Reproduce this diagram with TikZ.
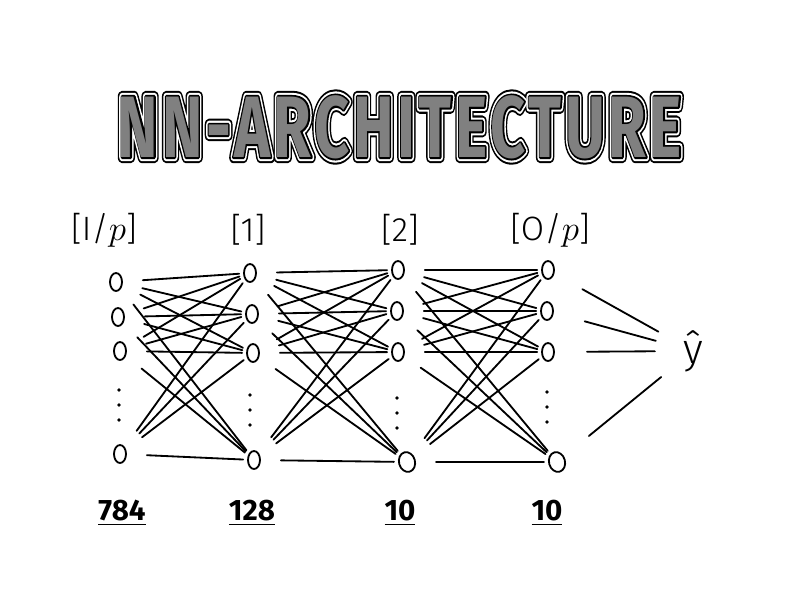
\documentclass[tikz,border=0pt]{standalone}
\usepackage{fontspec}
\usepackage{amsmath}
\usetikzlibrary{shapes.geometric}
\newfontfamily\titlefont{Fira Sans}
\newfontfamily\labelfont{Fira Sans}[UprightFont=* Light]

\tikzset{
  neuron/.style={ellipse, draw, line width=1.3pt, minimum width=0.3cm, minimum height=0.45cm, inner sep=0pt},
  bigneuron/.style={neuron, minimum width=0.4cm, minimum height=0.5cm, rotate=15},
  dotmark/.style={circle, fill, inner sep=0pt, minimum size=2.6pt},
  synapse/.style={line width=1.3pt, line cap=round, shorten <=0.5cm, shorten >=0.1cm},
  outsynapse/.style={synapse, shorten <=0.8cm, shorten >=0.7cm},
  layerlabel/.style={font=\labelfont\fontsize{24}{28}\selectfont},
  countlabel/.style={font=\titlefont\bfseries\fontsize{21}{24}\selectfont},
  titletext/.style={font=\titlefont\bfseries\fontsize{62}{70}\selectfont\addfontfeature{LetterSpace=6}, inner sep=0pt},
}

\newcommand{\titlestr}{\scalebox{0.7}[1]{NN-ARCHITECTURE}}
% the title once more, stroked with a pen of width #1 in colour #2
\newcommand{\strokedtitle}[2]{%
  \rlap{\color{#2}\special{pdf:literal direct 2 Tr #1 w 1 j}\titlestr\special{pdf:literal direct 0 Tr}}}

\begin{document}
\begin{tikzpicture}[x=0.025cm, y=-0.025cm]
  \useasboundingbox (0,0) rectangle (800,600);

  % title with outline
  \node[titletext] (title) at (400,127)
    {\strokedtitle{8.5}{black}\strokedtitle{5.6}{white}\strokedtitle{2.6}{black}\textcolor{gray}{\titlestr}};

  % layer labels
  \node[layerlabel] (lin) at (104,230) {[I/$p$]};
  \node[layerlabel] (lh) at (248,230) {[1]};
  \node[layerlabel] (lg) at (400,230) {[2]};
  \node[layerlabel] (lo) at (550,230) {[O/$p$]};

  % input layer
  \node[neuron] (i1) at (116,282) {};
  \node[neuron] (i2) at (118,317) {};
  \node[neuron] (i3) at (120,351) {};
  \node[neuron] (i4) at (120,454) {};

  % hidden layer 1
  \node[neuron] (h1) at (250,273) {};
  \node[neuron] (h2) at (252,314) {};
  \node[neuron] (h3) at (253,353) {};
  \node[neuron] (h4) at (254,460) {};

  % hidden layer 2
  \node[neuron] (g1) at (398,270) {};
  \node[neuron] (g2) at (397,311) {};
  \node[neuron] (g3) at (398,352) {};
  \node[bigneuron] (g4) at (407,462) {};

  % output layer
  \node[neuron] (o1) at (548,270) {};
  \node[neuron] (o2) at (547,311) {};
  \node[neuron] (o3) at (548,352) {};
  \node[bigneuron] (o4) at (557,462) {};

  % the dots between the third and the last neuron
  \foreach \nm/\x/\y in {i/119/390, h/250/395, g/397/398, o/547/392}
    \foreach \k in {0,1,2}
      \node[dotmark] (\nm dot\k) at (\x,\y+15*\k) {};

  \node[inner sep=0pt, font=\labelfont\fontsize{30}{30}\selectfont] (yhat) at (693,351) {ŷ};

  % connections
  \foreach \l/\r in {i/h, h/g, g/o}
    \foreach \a in {1,...,4}
      \foreach \b in {1,...,4}
        \draw[synapse] (\l\a) -- (\r\b);
  \foreach \a in {1,...,4}
    \draw[outsynapse] (o\a) -- (yhat);

  % neuron counts
  \node[countlabel] (cin) at (122,513) {\underline{784}};
  \node[countlabel] (ch) at (252,513) {\underline{128}};
  \node[countlabel] (cg) at (400,513) {\underline{10}};
  \node[countlabel] (co) at (547,513) {\underline{10}};
\end{tikzpicture}
\end{document}
